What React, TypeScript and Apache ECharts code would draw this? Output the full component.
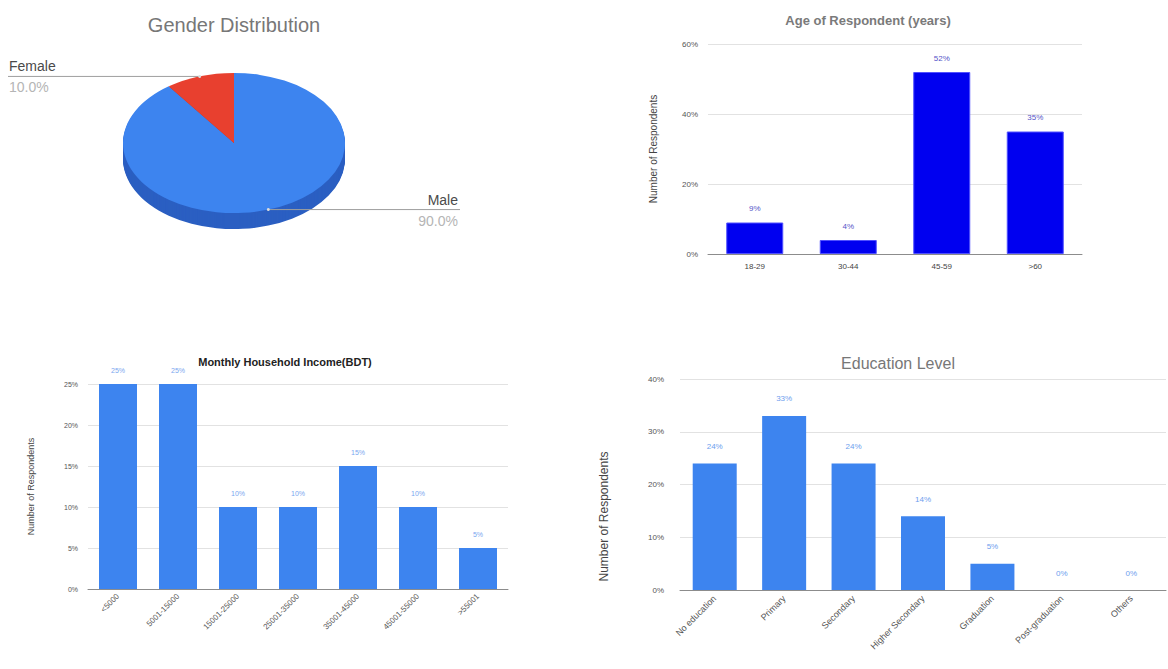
import React, { useEffect, useRef } from "react";
import * as echarts from "echarts";

// ---- data ----
const genderNames = ["Male", "Female"];
const genderValues = [90, 10];

const ageCategories = ["18-29", "30-44", "45-59", ">60"];
const ageValues = [9, 4, 52, 35];

const incomeCategories = [
  "<5000",
  "5001-15000",
  "15001-25000",
  "25001-35000",
  "35001-45000",
  "45001-55000",
  ">55001",
];
const incomeValues = [25, 25, 10, 10, 15, 10, 5];

const educationCategories = [
  "No education",
  "Primary",
  "Secondary",
  "Higher Secondary",
  "Graduation",
  "Post-graduation",
  "Others",
];
const educationValues = [24, 33, 24, 14, 5, 0, 0];

// ---- drawing constants ----
const FONT = "'Liberation Sans', Arial, Helvetica, sans-serif";
const PIE = { cx: 234, cy: 143, rx: 111, ry: 70, depth: 16 };
const PIE_TOP = ["#3d84ef", "#e8402f"];
const PIE_SIDE = ["#2b5fc2", "#b32f22"];
const BAR_BLUE = "#3d84ef";

const genderTotal = genderValues.reduce((a, b) => a + b, 0);

// Tilted (elliptical) pie with an extruded rim, one slice per data item.
function renderGenderSlice(params: any, api: any) {
  const i = params.dataIndex;
  const value = api.value(0) as number;
  const before = genderValues.slice(0, i).reduce((a, b) => a + b, 0);
  const start = -Math.PI / 2 + (before / genderTotal) * Math.PI * 2;
  const end = start + (value / genderTotal) * Math.PI * 2;
  const k = PIE.ry / PIE.rx;
  const children: any[] = [];

  for (let d = PIE.depth; d >= 1; d--) {
    children.push({
      type: "sector",
      x: PIE.cx,
      y: PIE.cy + d,
      scaleY: k,
      shape: { cx: 0, cy: 0, r: PIE.rx, r0: 0, startAngle: start, endAngle: end, clockwise: true },
      style: { fill: PIE_SIDE[i] },
      z2: 1,
    });
  }
  children.push({
    type: "sector",
    x: PIE.cx,
    y: PIE.cy,
    scaleY: k,
    shape: { cx: 0, cy: 0, r: PIE.rx, r0: 0, startAngle: start, endAngle: end, clockwise: true },
    style: { fill: PIE_TOP[i] },
    z2: 10,
  });

  // leader line + labels
  const mid = (start + end) / 2;
  const px = PIE.cx + PIE.rx * Math.cos(mid);
  const py = PIE.cy + PIE.ry * Math.sin(mid);
  const left = Math.cos(mid) < 0;
  const lineEnd = left ? 8 : 460;
  const textX = left ? 9 : 458;
  const pct = ((value / genderTotal) * 100).toFixed(1) + "%";

  children.push({
    type: "line",
    shape: { x1: lineEnd, y1: py, x2: px, y2: py },
    style: { stroke: "#9e9e9e", lineWidth: 1 },
    z2: 20,
  });
  children.push({
    type: "circle",
    shape: { cx: px, cy: py, r: 1.5 },
    style: { fill: "#dcdcdc" },
    z2: 21,
  });
  children.push({
    type: "text",
    x: textX,
    y: py - 3,
    style: {
      text: genderNames[i],
      fill: "#4a4a4a",
      fontSize: 14,
      fontFamily: FONT,
      align: left ? "left" : "right",
      verticalAlign: "bottom",
    },
    z2: 20,
  });
  children.push({
    type: "text",
    x: textX,
    y: py + 4,
    style: {
      text: pct,
      fill: "#b5b5b5",
      fontSize: 14,
      fontFamily: FONT,
      align: left ? "left" : "right",
      verticalAlign: "top",
    },
    z2: 20,
  });

  return { type: "group", children };
}

function valueAxis(gridIndex: number, max: number, interval: number, extra: any) {
  return {
    type: "value",
    gridIndex,
    min: 0,
    max,
    interval,
    axisLine: { show: false },
    axisTick: { show: false },
    splitLine: { lineStyle: { color: "#e2e2e2", width: 1 } },
    name: "Number of Respondents",
    nameLocation: "middle",
    ...extra,
  };
}

function categoryAxis(gridIndex: number, data: string[], extra: any) {
  return {
    type: "category",
    gridIndex,
    data,
    axisLine: { lineStyle: { color: "#8c8c8c", width: 1 } },
    axisTick: { show: false },
    ...extra,
  };
}

export default function App() {
  const ref = useRef<HTMLDivElement>(null);

  useEffect(() => {
    if (!ref.current) return;
    const chart = echarts.init(ref.current, undefined, { renderer: "svg" });

    const option: any = {
      animation: false,
      backgroundColor: "#ffffff",
      textStyle: { fontFamily: FONT },
      title: [
        {
          text: "Gender Distribution",
          left: 234,
          top: 15,
          padding: 0,
          textAlign: "center",
          textStyle: { fontSize: 20, fontWeight: "normal", color: "#777777", fontFamily: FONT },
        },
        {
          text: "Age of Respondent (years)",
          left: 868,
          top: 14,
          padding: 0,
          textAlign: "center",
          textStyle: { fontSize: 13, fontWeight: "bold", color: "#7a7a7a", fontFamily: FONT },
        },
        {
          text: "Monthly Household Income(BDT)",
          left: 285,
          top: 356,
          padding: 0,
          textAlign: "center",
          textStyle: { fontSize: 11, fontWeight: "bold", color: "#222222", fontFamily: FONT },
        },
        {
          text: "Education Level",
          left: 898,
          top: 355,
          padding: 0,
          textAlign: "center",
          textStyle: { fontSize: 16, fontWeight: "normal", color: "#777777", fontFamily: FONT },
        },
      ],
      grid: [
        { left: 708, top: 44, width: 374, height: 210, containLabel: false, outerBoundsMode: "none" },
        { left: 88, top: 384, width: 420, height: 205, containLabel: false, outerBoundsMode: "none" },
        { left: 680, top: 379, width: 486, height: 211, containLabel: false, outerBoundsMode: "none" },
      ],
      xAxis: [
        categoryAxis(0, ageCategories, {
          axisLabel: { color: "#444", fontSize: 8, margin: 8, interval: 0 },
        }),
        categoryAxis(1, incomeCategories, {
          axisLabel: { color: "#555", fontSize: 8, margin: 6, interval: 0, rotate: 45 },
        }),
        categoryAxis(2, educationCategories, {
          axisLabel: { color: "#555", fontSize: 9, margin: 7, interval: 0, rotate: 45 },
        }),
      ],
      yAxis: [
        valueAxis(0, 60, 20, {
          axisLabel: { formatter: "{value}%", color: "#555", fontSize: 8, margin: 10 },
          nameGap: 50,
          nameTextStyle: { fontSize: 10, color: "#444" },
        }),
        valueAxis(1, 25, 5, {
          axisLabel: { formatter: "{value}%", color: "#555", fontSize: 7, margin: 10 },
          nameGap: 53,
          nameTextStyle: { fontSize: 9, color: "#444" },
        }),
        valueAxis(2, 40, 10, {
          axisLabel: { formatter: "{value}%", color: "#555", fontSize: 8, margin: 16 },
          nameGap: 70,
          nameTextStyle: { fontSize: 12, color: "#444", padding: [0, 64, 0, 0] },
        }),
      ],
      series: [
        {
          type: "custom",
          name: "Gender",
          coordinateSystem: "none",
          renderItem: renderGenderSlice,
          data: genderValues.map((v, i) => ({ name: genderNames[i], value: v })),
          silent: true,
        },
        {
          type: "bar",
          name: "Age",
          xAxisIndex: 0,
          yAxisIndex: 0,
          data: ageValues,
          barWidth: 57,
          itemStyle: { color: "#0000f0", borderColor: "#5050ff", borderWidth: 1 },
          label: {
            show: true,
            position: "top",
            distance: 10,
            formatter: "{c}%",
            color: "#5454c8",
            fontSize: 8,
          },
        },
        {
          type: "bar",
          name: "Income",
          xAxisIndex: 1,
          yAxisIndex: 1,
          data: incomeValues,
          barWidth: 38,
          itemStyle: { color: BAR_BLUE },
          label: {
            show: true,
            position: "top",
            distance: 10,
            formatter: "{c}%",
            color: "#7aa6ef",
            fontSize: 7,
          },
        },
        {
          type: "bar",
          name: "Education",
          xAxisIndex: 2,
          yAxisIndex: 2,
          data: educationValues,
          barWidth: 44,
          itemStyle: { color: BAR_BLUE },
          label: {
            show: true,
            position: "top",
            distance: 13,
            formatter: "{c}%",
            color: "#6d9eee",
            fontSize: 8,
          },
        },
      ],
    };

    chart.setOption(option);
    return () => chart.dispose();
  }, []);

  return (
    <div
      ref={ref}
      style={{ position: "fixed", left: 0, top: 0, width: 1168, height: 669, background: "#fff" }}
    />
  );
}
